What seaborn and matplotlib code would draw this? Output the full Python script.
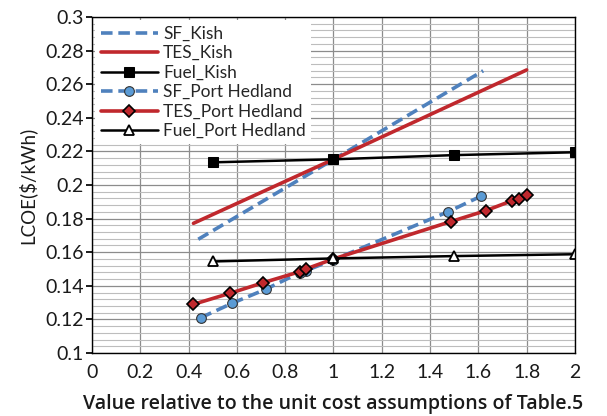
import matplotlib
matplotlib.use("Agg")
import matplotlib.pyplot as plt
import seaborn as sns
import numpy as np
import pandas as pd
from matplotlib.ticker import MultipleLocator, FuncFormatter

# ---- data ----
sf_kish_x = [0.44, 1.0, 1.62]
sf_kish_y = [0.1677, 0.2152, 0.2680]

tes_kish_x = [0.42, 1.0, 1.80]
tes_kish_y = [0.1772, 0.2153, 0.2685]

fuel_kish_x = [0.5, 1.0, 1.5, 2.0]
fuel_kish_y = [0.2135, 0.2153, 0.2178, 0.2195]

sf_ph_x = [0.45, 0.58, 0.72, 0.86, 0.885, 1.0, 1.475, 1.61]
sf_ph_y = [0.1210, 0.1296, 0.1380, 0.1478, 0.1490, 0.1555, 0.1841, 0.1933]

tes_ph_x = [0.42, 0.57, 0.71, 0.86, 0.885, 1.0, 1.485, 1.63, 1.74, 1.77, 1.80]
tes_ph_y = [0.1290, 0.1355, 0.1419, 0.1484, 0.1500, 0.1560, 0.1782, 0.1847, 0.1907, 0.1917, 0.1940]

fuel_ph_x = [0.5, 1.0, 1.5, 2.0]
fuel_ph_y = [0.1545, 0.1563, 0.1577, 0.1588]

x_ticks = [0, 0.2, 0.4, 0.6, 0.8, 1, 1.2, 1.4, 1.6, 1.8, 2]
y_ticks = [0.1, 0.12, 0.14, 0.16, 0.18, 0.2, 0.22, 0.24, 0.26, 0.28, 0.3]

sns.set_theme(style="white")
plt.rcParams['font.family'] = ['Lato', 'DejaVu Sans']

fig = plt.figure(figsize=(6.07, 4.16), dpi=100)
ax = fig.add_axes([0.1516, 0.1514, 0.7956, 0.8077])

blue = "#4F81BD"
red = "#C0282D"

series = [
    ("SF_Kish", sf_kish_x, sf_kish_y, dict(color=blue, linestyle=(0, (3.2, 1.6)), linewidth=2.6)),
    ("TES_Kish", tes_kish_x, tes_kish_y, dict(color=red, linewidth=2.6)),
    ("Fuel_Kish", fuel_kish_x, fuel_kish_y, dict(color="black", linewidth=1.8, marker="s",
                                                  markersize=7, markerfacecolor="black",
                                                  markeredgecolor="black")),
    ("SF_Port Hedland", sf_ph_x, sf_ph_y, dict(color=blue, linestyle=(0, (3.2, 1.6)), linewidth=2.6,
                                                marker="o", markersize=7, markerfacecolor="#5B9BD5",
                                                markeredgecolor="#333333", markeredgewidth=0.8)),
    ("TES_Port Hedland", tes_ph_x, tes_ph_y, dict(color=red, linewidth=2.6, marker="D",
                                                  markersize=6.5, markerfacecolor=red,
                                                  markeredgecolor="black", markeredgewidth=1.2)),
    ("Fuel_Port Hedland", fuel_ph_x, fuel_ph_y, dict(color="black", linewidth=1.8, marker="^",
                                                     markersize=7, markerfacecolor="white",
                                                     markeredgecolor="black", markeredgewidth=1.3)),
]

for name, xs, ys, kw in series:
    sns.lineplot(x=xs, y=ys, ax=ax, label=name, sort=False, estimator=None, **kw)

ax.set_xlim(0, 2)
ax.set_ylim(0.1, 0.3)
ax.set_xticks(x_ticks)
ax.set_yticks(y_ticks)
ax.yaxis.set_minor_locator(MultipleLocator(0.004))
fmt = FuncFormatter(lambda v, p: f"{v:g}")
ax.xaxis.set_major_formatter(fmt)
ax.yaxis.set_major_formatter(fmt)

ax.grid(True, which="major", axis="both", color="#8c8c8c", linewidth=0.9)
ax.grid(True, which="minor", axis="y", color="#bdbdbd", linewidth=0.8)
ax.set_axisbelow(True)
for s in ax.spines.values():
    s.set_color("black")
    s.set_linewidth(1.0)

ax.tick_params(axis="both", which="major", labelsize=14, length=4, direction="out",
               color="black", left=True, bottom=False, pad=2, labelcolor="#1a1a1a")
ax.tick_params(axis="x", which="major", pad=4)
ax.tick_params(axis="both", which="minor", left=False, bottom=False)

ax.set_xlabel("Value relative to the unit cost assumptions of Table.5", fontsize=14,
              fontweight="semibold", labelpad=9, color="#1a1a1a", family=["Open Sans", "DejaVu Sans"])
ax.set_ylabel("LCOE($/kWh)", fontsize=13.5, labelpad=6, color="#1a1a1a")

leg = ax.legend(loc="upper left", fontsize=12.5, frameon=True, framealpha=1,
                edgecolor="none", facecolor="white", handlelength=3.3,
                borderaxespad=0.2, borderpad=0.3, labelspacing=0.2, handletextpad=0.3,
                fancybox=False)

fig.savefig("out.png", dpi=100)
